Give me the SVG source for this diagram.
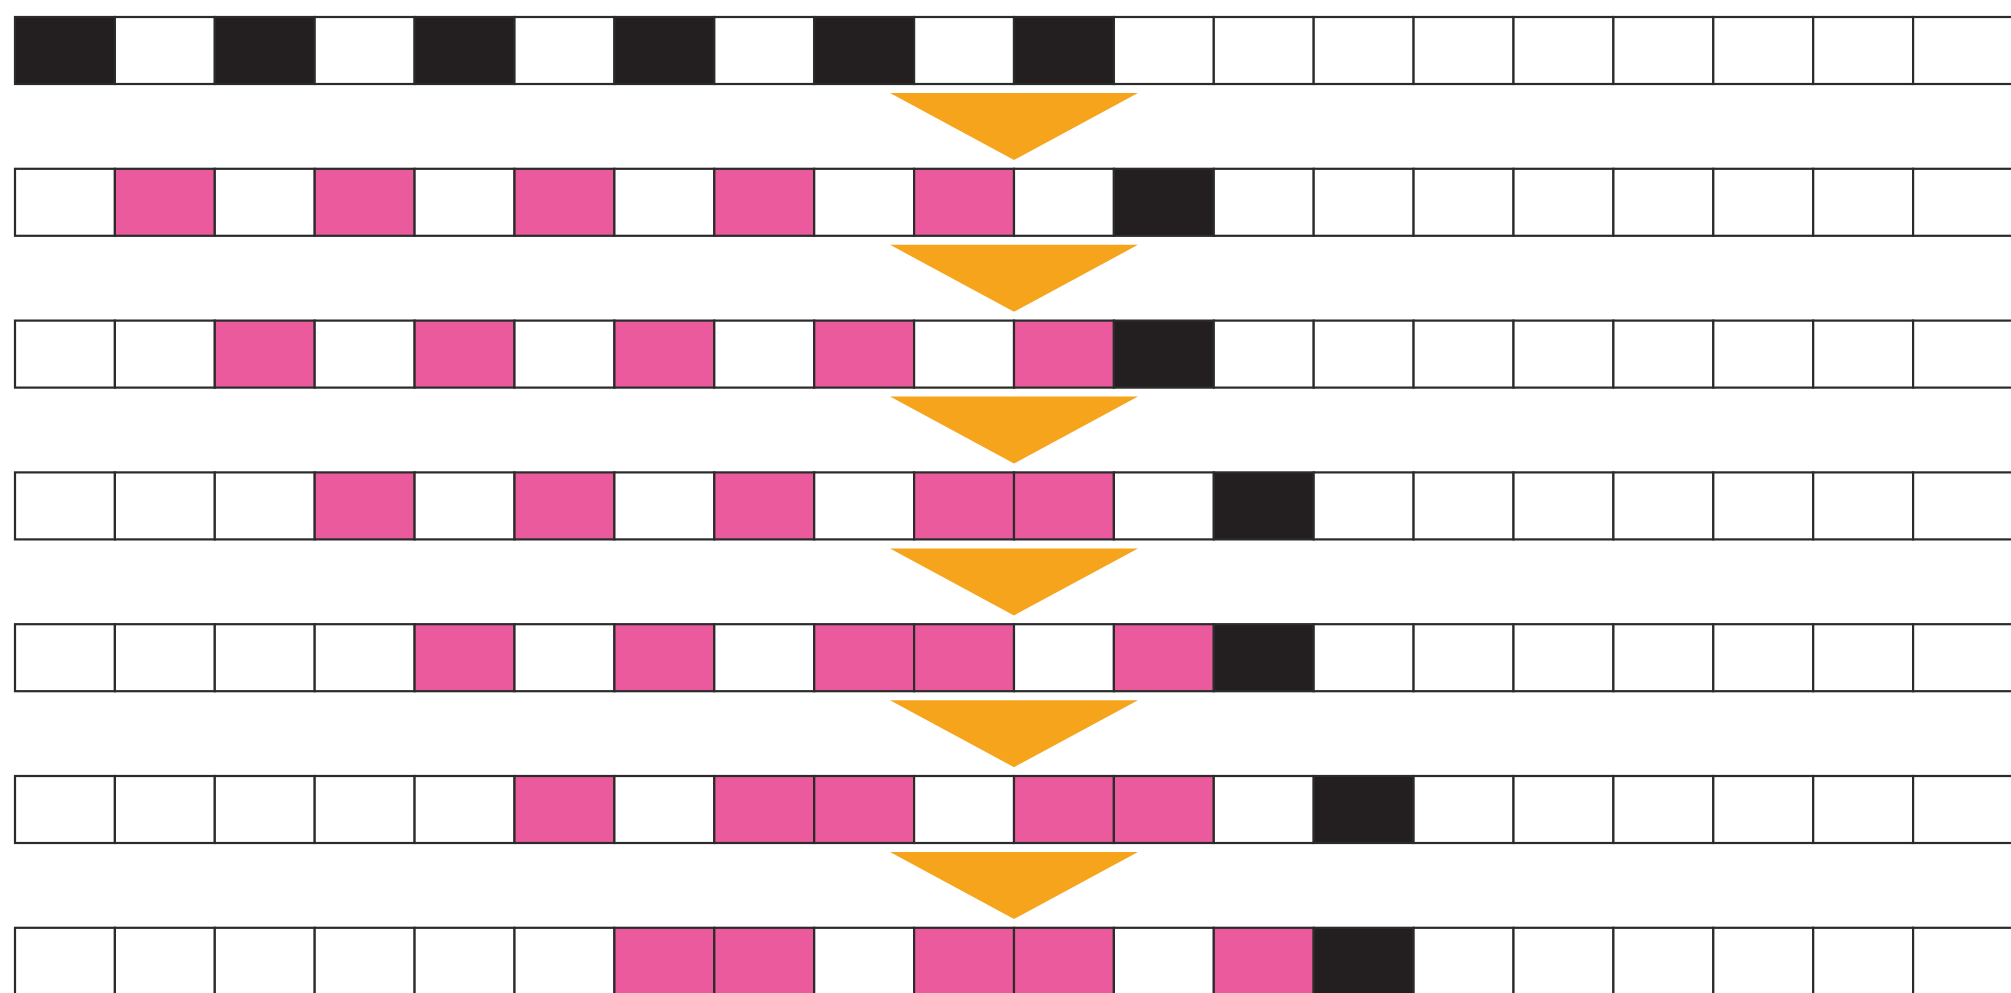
<svg xmlns="http://www.w3.org/2000/svg" width="2011" height="993" viewBox="0 0 2011 993">
<style>
rect{stroke:#2b2b2b;stroke-width:2.2;}
.w{fill:#ffffff;}
.p{fill:#ec5a9e;}
.k{fill:#231f20;}
.arr{fill:#f6a41c;}
</style>
<defs>
<rect id="c" width="99.9" height="67"/>
</defs>
<rect x="0" y="0" width="2011" height="993" style="fill:#fff;stroke:none"/>
<g id="row1" transform="translate(0,17)">
<rect class="k" x="15" y="0" width="99.9" height="67"/><rect class="w" x="114.9" y="0" width="99.9" height="67"/><rect class="k" x="214.8" y="0" width="99.9" height="67"/><rect class="w" x="314.7" y="0" width="99.9" height="67"/><rect class="k" x="414.6" y="0" width="99.9" height="67"/><rect class="w" x="514.5" y="0" width="99.9" height="67"/><rect class="k" x="614.4" y="0" width="99.9" height="67"/><rect class="w" x="714.3" y="0" width="99.9" height="67"/><rect class="k" x="814.2" y="0" width="99.9" height="67"/><rect class="w" x="914.1" y="0" width="99.9" height="67"/><rect class="k" x="1014" y="0" width="99.9" height="67"/><rect class="w" x="1113.9" y="0" width="99.9" height="67"/><rect class="w" x="1213.8" y="0" width="99.9" height="67"/><rect class="w" x="1313.7" y="0" width="99.9" height="67"/><rect class="w" x="1413.6" y="0" width="99.9" height="67"/><rect class="w" x="1513.5" y="0" width="99.9" height="67"/><rect class="w" x="1613.4" y="0" width="99.9" height="67"/><rect class="w" x="1713.3" y="0" width="99.9" height="67"/><rect class="w" x="1813.2" y="0" width="99.9" height="67"/><rect class="w" x="1913.1" y="0" width="99.9" height="67"/>
</g>
<g id="row2" transform="translate(0,168.8)">
<rect class="w" x="15" y="0" width="99.9" height="67"/><rect class="p" x="114.9" y="0" width="99.9" height="67"/><rect class="w" x="214.8" y="0" width="99.9" height="67"/><rect class="p" x="314.7" y="0" width="99.9" height="67"/><rect class="w" x="414.6" y="0" width="99.9" height="67"/><rect class="p" x="514.5" y="0" width="99.9" height="67"/><rect class="w" x="614.4" y="0" width="99.9" height="67"/><rect class="p" x="714.3" y="0" width="99.9" height="67"/><rect class="w" x="814.2" y="0" width="99.9" height="67"/><rect class="p" x="914.1" y="0" width="99.9" height="67"/><rect class="w" x="1014" y="0" width="99.9" height="67"/><rect class="k" x="1113.9" y="0" width="99.9" height="67"/><rect class="w" x="1213.8" y="0" width="99.9" height="67"/><rect class="w" x="1313.7" y="0" width="99.9" height="67"/><rect class="w" x="1413.6" y="0" width="99.9" height="67"/><rect class="w" x="1513.5" y="0" width="99.9" height="67"/><rect class="w" x="1613.4" y="0" width="99.9" height="67"/><rect class="w" x="1713.3" y="0" width="99.9" height="67"/><rect class="w" x="1813.2" y="0" width="99.9" height="67"/><rect class="w" x="1913.1" y="0" width="99.9" height="67"/>
</g>
<g id="row3" transform="translate(0,320.6)">
<rect class="w" x="15" y="0" width="99.9" height="67"/><rect class="w" x="114.9" y="0" width="99.9" height="67"/><rect class="p" x="214.8" y="0" width="99.9" height="67"/><rect class="w" x="314.7" y="0" width="99.9" height="67"/><rect class="p" x="414.6" y="0" width="99.9" height="67"/><rect class="w" x="514.5" y="0" width="99.9" height="67"/><rect class="p" x="614.4" y="0" width="99.9" height="67"/><rect class="w" x="714.3" y="0" width="99.9" height="67"/><rect class="p" x="814.2" y="0" width="99.9" height="67"/><rect class="w" x="914.1" y="0" width="99.9" height="67"/><rect class="p" x="1014" y="0" width="99.9" height="67"/><rect class="k" x="1113.9" y="0" width="99.9" height="67"/><rect class="w" x="1213.8" y="0" width="99.9" height="67"/><rect class="w" x="1313.7" y="0" width="99.9" height="67"/><rect class="w" x="1413.6" y="0" width="99.9" height="67"/><rect class="w" x="1513.5" y="0" width="99.9" height="67"/><rect class="w" x="1613.4" y="0" width="99.9" height="67"/><rect class="w" x="1713.3" y="0" width="99.9" height="67"/><rect class="w" x="1813.2" y="0" width="99.9" height="67"/><rect class="w" x="1913.1" y="0" width="99.9" height="67"/>
</g>
<g id="row4" transform="translate(0,472.4)">
<rect class="w" x="15" y="0" width="99.9" height="67"/><rect class="w" x="114.9" y="0" width="99.9" height="67"/><rect class="w" x="214.8" y="0" width="99.9" height="67"/><rect class="p" x="314.7" y="0" width="99.9" height="67"/><rect class="w" x="414.6" y="0" width="99.9" height="67"/><rect class="p" x="514.5" y="0" width="99.9" height="67"/><rect class="w" x="614.4" y="0" width="99.9" height="67"/><rect class="p" x="714.3" y="0" width="99.9" height="67"/><rect class="w" x="814.2" y="0" width="99.9" height="67"/><rect class="p" x="914.1" y="0" width="99.9" height="67"/><rect class="p" x="1014" y="0" width="99.9" height="67"/><rect class="w" x="1113.9" y="0" width="99.9" height="67"/><rect class="k" x="1213.8" y="0" width="99.9" height="67"/><rect class="w" x="1313.7" y="0" width="99.9" height="67"/><rect class="w" x="1413.6" y="0" width="99.9" height="67"/><rect class="w" x="1513.5" y="0" width="99.9" height="67"/><rect class="w" x="1613.4" y="0" width="99.9" height="67"/><rect class="w" x="1713.3" y="0" width="99.9" height="67"/><rect class="w" x="1813.2" y="0" width="99.9" height="67"/><rect class="w" x="1913.1" y="0" width="99.9" height="67"/>
</g>
<g id="row5" transform="translate(0,624.2)">
<rect class="w" x="15" y="0" width="99.9" height="67"/><rect class="w" x="114.9" y="0" width="99.9" height="67"/><rect class="w" x="214.8" y="0" width="99.9" height="67"/><rect class="w" x="314.7" y="0" width="99.9" height="67"/><rect class="p" x="414.6" y="0" width="99.9" height="67"/><rect class="w" x="514.5" y="0" width="99.9" height="67"/><rect class="p" x="614.4" y="0" width="99.9" height="67"/><rect class="w" x="714.3" y="0" width="99.9" height="67"/><rect class="p" x="814.2" y="0" width="99.9" height="67"/><rect class="p" x="914.1" y="0" width="99.9" height="67"/><rect class="w" x="1014" y="0" width="99.9" height="67"/><rect class="p" x="1113.9" y="0" width="99.9" height="67"/><rect class="k" x="1213.8" y="0" width="99.9" height="67"/><rect class="w" x="1313.7" y="0" width="99.9" height="67"/><rect class="w" x="1413.6" y="0" width="99.9" height="67"/><rect class="w" x="1513.5" y="0" width="99.9" height="67"/><rect class="w" x="1613.4" y="0" width="99.9" height="67"/><rect class="w" x="1713.3" y="0" width="99.9" height="67"/><rect class="w" x="1813.2" y="0" width="99.9" height="67"/><rect class="w" x="1913.1" y="0" width="99.9" height="67"/>
</g>
<g id="row6" transform="translate(0,776)">
<rect class="w" x="15" y="0" width="99.9" height="67"/><rect class="w" x="114.9" y="0" width="99.9" height="67"/><rect class="w" x="214.8" y="0" width="99.9" height="67"/><rect class="w" x="314.7" y="0" width="99.9" height="67"/><rect class="w" x="414.6" y="0" width="99.9" height="67"/><rect class="p" x="514.5" y="0" width="99.9" height="67"/><rect class="w" x="614.4" y="0" width="99.9" height="67"/><rect class="p" x="714.3" y="0" width="99.9" height="67"/><rect class="p" x="814.2" y="0" width="99.9" height="67"/><rect class="w" x="914.1" y="0" width="99.9" height="67"/><rect class="p" x="1014" y="0" width="99.9" height="67"/><rect class="p" x="1113.9" y="0" width="99.9" height="67"/><rect class="w" x="1213.8" y="0" width="99.9" height="67"/><rect class="k" x="1313.7" y="0" width="99.9" height="67"/><rect class="w" x="1413.6" y="0" width="99.9" height="67"/><rect class="w" x="1513.5" y="0" width="99.9" height="67"/><rect class="w" x="1613.4" y="0" width="99.9" height="67"/><rect class="w" x="1713.3" y="0" width="99.9" height="67"/><rect class="w" x="1813.2" y="0" width="99.9" height="67"/><rect class="w" x="1913.1" y="0" width="99.9" height="67"/>
</g>
<g id="row7" transform="translate(0,927.8)">
<rect class="w" x="15" y="0" width="99.9" height="67"/><rect class="w" x="114.9" y="0" width="99.9" height="67"/><rect class="w" x="214.8" y="0" width="99.9" height="67"/><rect class="w" x="314.7" y="0" width="99.9" height="67"/><rect class="w" x="414.6" y="0" width="99.9" height="67"/><rect class="w" x="514.5" y="0" width="99.9" height="67"/><rect class="p" x="614.4" y="0" width="99.9" height="67"/><rect class="p" x="714.3" y="0" width="99.9" height="67"/><rect class="w" x="814.2" y="0" width="99.9" height="67"/><rect class="p" x="914.1" y="0" width="99.9" height="67"/><rect class="p" x="1014" y="0" width="99.9" height="67"/><rect class="w" x="1113.9" y="0" width="99.9" height="67"/><rect class="p" x="1213.8" y="0" width="99.9" height="67"/><rect class="k" x="1313.7" y="0" width="99.9" height="67"/><rect class="w" x="1413.6" y="0" width="99.9" height="67"/><rect class="w" x="1513.5" y="0" width="99.9" height="67"/><rect class="w" x="1613.4" y="0" width="99.9" height="67"/><rect class="w" x="1713.3" y="0" width="99.9" height="67"/><rect class="w" x="1813.2" y="0" width="99.9" height="67"/><rect class="w" x="1913.1" y="0" width="99.9" height="67"/>
</g>
<g id="connectors">
<polygon class="arr" points="890,93 1138,93 1014,160"/>
<polygon class="arr" points="890,244.8 1138,244.8 1014,311.8"/>
<polygon class="arr" points="890,396.6 1138,396.6 1014,463.6"/>
<polygon class="arr" points="890,548.4 1138,548.4 1014,615.4"/>
<polygon class="arr" points="890,700.2 1138,700.2 1014,767.2"/>
<polygon class="arr" points="890,852 1138,852 1014,919"/>
</g>
</svg>
